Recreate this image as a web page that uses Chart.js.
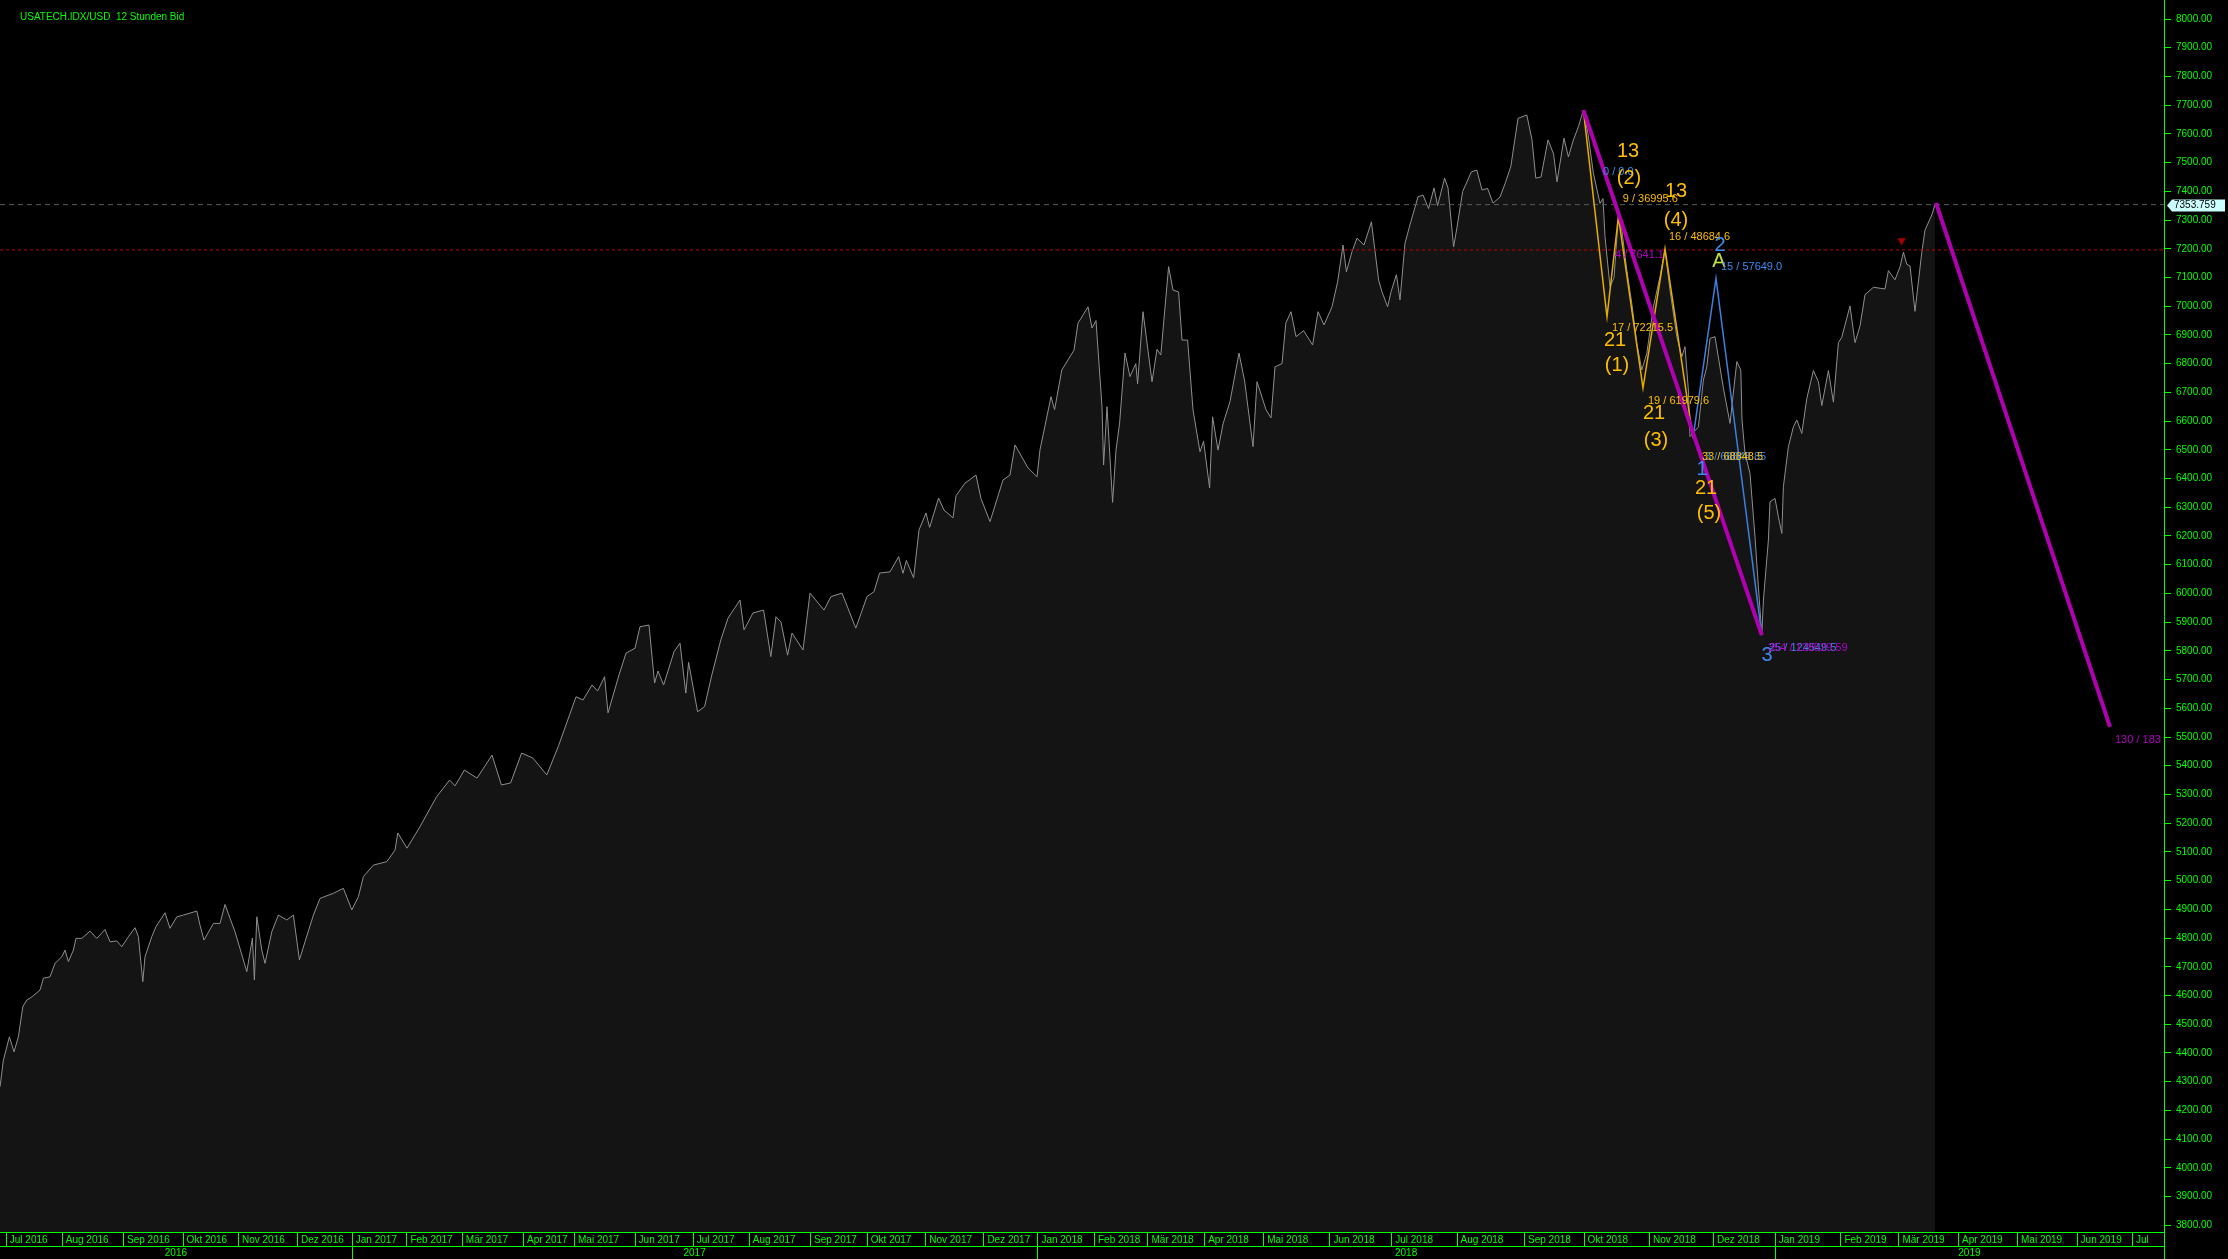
<!DOCTYPE html>
<html>
<head>
<meta charset="utf-8">
<script src="https://cdn.jsdelivr.net/npm/chart.js@4.4.1/dist/chart.umd.min.js"></script>
<style>
html, body { margin: 0; padding: 0; background: #000; overflow: hidden; }
#wrap { position: relative; width: 2228px; height: 1259px; }
</style>
</head>
<body>
<div id="wrap"><canvas id="usatechChart" width="2228" height="1259"></canvas></div>
<script>
// USATECH.IDX/USD, 12h bars - x is the bar (session) index, y the bid price
var chartTitle = 'USATECH.IDX/USD  12 Stunden Bid';

var monthLabels = ['Jul 2016','Aug 2016','Sep 2016','Okt 2016','Nov 2016','Dez 2016',
  'Jan 2017','Feb 2017','Mär 2017','Apr 2017','Mai 2017','Jun 2017','Jul 2017','Aug 2017','Sep 2017','Okt 2017','Nov 2017','Dez 2017',
  'Jan 2018','Feb 2018','Mär 2018','Apr 2018','Mai 2018','Jun 2018','Jul 2018','Aug 2018','Sep 2018','Okt 2018','Nov 2018','Dez 2018',
  'Jan 2019','Feb 2019','Mär 2019','Apr 2019','Mai 2019','Jun 2019','Jul 2019'];
var monthStarts = [2.9, 30.9, 61.5, 91.3, 119, 148.5,
  175.9, 203.2, 230.9, 261.5, 287, 317.3, 346.4, 374.4, 405, 433.4, 462.6, 491.7,
  518.7, 547, 573.7, 602.1, 631.6, 664.7, 695.6, 728.3, 762, 791.8, 824.5, 856.5,
  887.4, 920.2, 949.2, 979, 1008.5, 1038.3, 1066];
var yearLabels = ['2016', '2017', '2018', '2019'];
var yearStarts = [0, 175.9, 518.7, 887.4];
var lastBar = 1082;

var priceTicks = [3800,3900,4000,4100,4200,4300,4400,4500,4600,4700,4800,4900,5000,5100,5200,5300,5400,5500,
  5600,5700,5800,5900,6000,6100,6200,6300,6400,6500,6600,6700,6800,6900,7000,7100,7200,7300,7400,7500,
  7600,7700,7800,7900,8000];

// [bar, price]
var pricePoints = [
  [0,4282],[1.7,4375],[4.7,4456],[7,4404],[9.2,4456],[11.4,4561],[13.4,4584],[15.9,4595],[20,4619],[21.7,4660],
  [25,4665],[27.5,4712],[30.9,4735],[32.5,4758],[34.2,4718],[36.7,4758],[38,4799],[40.9,4799],[45,4824],[48.4,4799],
  [52.5,4830],[55,4787],[58.4,4790],[60.9,4770],[64.2,4805],[67.5,4836],[69.2,4805],[71.4,4648],[72.5,4735],[75.9,4805],
  [78,4840],[82.5,4888],[85,4834],[88.4,4874],[91.7,4880],[98.4,4894],[100,4845],[102,4793],[105,4830],[106.7,4851],
  [110,4851],[112.5,4917],[115,4869],[117.5,4822],[123.4,4683],[126.2,4800],[127.2,4654],[128.4,4874],[130.9,4758],[132.5,4712],
  [135.9,4822],[139.2,4880],[143.4,4863],[146.7,4880],[149.7,4724],[152.5,4787],[156.7,4880],[160,4938],[166.7,4956],[171.7,4973],
  [175.9,4898],[179.2,4944],[181.7,5014],[186.7,5054],[193.4,5066],[197.5,5106],[198.9,5166],[203.5,5113],[210,5188],[218.3,5292],
  [224.8,5350],[227.5,5330],[232.2,5385],[238.5,5357],[246,5437],[250.7,5333],[255.3,5340],[260.8,5444],[266.4,5427],[273.4,5368],
  [279.3,5470],[288,5640],[291.5,5629],[296,5681],[298.8,5660],[302.3,5710],[304,5584],[309.5,5716],[313,5792],[317.5,5809],
  [320,5884],[324.5,5890],[327.3,5688],[329,5730],[331.8,5681],[337,5797],[340,5827],[342.9,5653],[344.3,5760],[348.8,5588],
  [352.3,5606],[355.9,5716],[360.4,5838],[364,5914],[370,5977],[372,5873],[376.5,5932],[381.8,5942],[385.4,5780],[388,5919],
  [390.5,5900],[393.8,5785],[396,5862],[401.5,5803],[405,6001],[412,5942],[415.5,5989],[421,6001],[427.9,5879],[433.5,5989],
  [437,6006],[439.8,6071],[445,6075],[449.3,6128],[451.5,6070],[453.2,6115],[456.8,6054],[459.5,6221],[463,6280],[464.8,6230],
  [469.3,6332],[472,6290],[476.5,6263],[478,6340],[482.5,6384],[488,6412],[490.5,6330],[495,6250],[501.5,6395],[505,6412],
  [507.5,6517],[514,6437],[518.5,6406],[520,6500],[525.5,6685],[527.3,6640],[530.9,6778],[537,6847],[539,6941],[544,6998],
  [546,6924],[548,6950],[551,6650],[551.8,6447],[553.5,6650],[556.3,6317],[558,6499],[559.8,6593],[562.5,6837],[565,6755],
  [567.9,6800],[568.8,6730],[571.5,6981],[576,6737],[578.5,6850],[580.4,6830],[584.3,7138],[586.5,7056],[589.3,7050],[591,6882],
  [593.8,6882],[596.5,6639],[600,6493],[601.8,6530],[604.8,6367],[606.3,6615],[609,6499],[611.5,6590],[615,6668],[619.5,6837],
  [622.3,6740],[626.5,6511],[628.5,6737],[633,6640],[635.5,6611],[637.5,6789],[641,6800],[642.9,6941],[645.5,6981],[648,6894],
  [651.8,6915],[656.3,6865],[659,6981],[662,6935],[666,6998],[668.8,7085],[671.5,7213],[673.2,7120],[676,7190],[678.5,7237],
  [682,7213],[685.7,7294],[689.3,7091],[691,7050],[693.8,6998],[695.5,7050],[698.2,7110],[700,7022],[702.5,7220],[705.4,7294],
  [709,7381],[711.5,7387],[714.3,7340],[717,7412],[718.8,7350],[722.3,7446],[724,7412],[726.8,7207],[728.5,7275],[731.3,7399],
  [735.7,7468],[738.4,7474],[741,7405],[743.8,7410],[746.5,7359],[750,7380],[752.7,7430],[755.4,7486],[759,7654],[763.4,7666],
  [766,7579],[767.9,7446],[770.5,7450],[774,7579],[776.8,7530],[778.5,7433],[782,7585],[784.2,7520],[786.7,7579],[789.2,7625],
  [791.7,7683],[794,7600],[796.7,7463],[800,7358],[801.5,7375],[802.5,7242],[805,7068],[807,7100],[809.2,7312],[810.9,7265],
  [813.4,7126],[815.9,7010],[818.4,6871],[820.9,6778],[823.4,6836],[826.7,6998],[830,7103],[832.5,7196],[835,7056],[838.4,6894],
  [840.9,6824],[842.5,6859],[844.2,6708],[845,6546],[849.2,6580],[851.7,6743],[853.4,6789],[855,6888],[857.5,6894],[861.7,6715],
  [865,6592],[868.4,6807],[870.4,6778],[871,6604],[872.5,6488],[875,6418],[877.5,6197],[879.2,6023],[880.9,5855],[881.7,5977],
  [884.2,6186],[885,6319],[887.5,6331],[889.2,6267],[890.9,6209],[891.7,6372],[894.2,6511],[896.7,6580],[898.4,6604],[900.9,6557],
  [903.4,6679],[906.7,6776],[909.2,6737],[910.9,6654],[914.2,6776],[916.7,6666],[919.2,6873],[920.9,6892],[925,7001],[927.5,6873],
  [930,6931],[932.5,7040],[936.7,7066],[942.5,7060],[944.2,7124],[947.5,7092],[950,7137],[951.7,7188],[953.4,7146],[955,7140],
  [957.5,6982],[960.9,7188],[962.5,7265],[965.9,7318],[967.5,7353.759]
];
var lastPrice = 7353.759;
var alertLevel = 7196;
var alertMarker = [[950.8, 7228]];

// Elliott wave counts
var yellowWave = [[791.7,7683],[803.5,6963],[809.2,7312],[821.5,6715],[832.5,7200],[846.5,6541]];
var blueWave = [[846.5,6541],[858,7097],[880.9,5855]];
var magentaLeg = [[791.7,7683],[880.9,5855]];
var magentaProjection = [[968,7360],[1055,5535]];

// [text, bar, price, style]
var waveLabels = [
  ['0 / 0.0', 801.5, 7468, 'blueSmall'],
  ['13', 814, 7538, 'yellowBig'],
  ['(2)', 814.5, 7446, 'yellowBig'],
  ['9 / 36995.6', 811.4, 7372, 'yellowSmall'],
  ['13', 838, 7399, 'yellowBig'],
  ['(4)', 838, 7300, 'yellowBig'],
  ['16 / 48684.6', 834.5, 7242, 'yellowSmall'],
  ['4 / 7641.1', 807.5, 7178, 'magentaSmall'],
  ['2', 860, 7212, 'blueBig'],
  ['A', 859.5, 7155, 'limeBig'],
  ['15 / 57649.0', 860.5, 7138, 'blueSmall'],
  ['17 / 72215.5', 806, 6924, 'yellowSmall'],
  ['21', 807.5, 6882, 'yellowBig'],
  ['(1)', 808.5, 6795, 'yellowBig'],
  ['19 / 61979.6', 824, 6671, 'yellowSmall'],
  ['21', 827, 6628, 'yellowBig'],
  ['(3)', 828, 6534, 'yellowBig'],
  ['3 / 68848.85', 852.5, 6475, 'blueSmall'],
  ['33 / 68848.5', 851, 6475, 'yellowSmall'],
  ['1', 851, 6430, 'blueBig'],
  ['21', 853, 6367, 'yellowBig'],
  ['(5)', 854.5, 6280, 'yellowBig'],
  ['3', 883.5, 5785, 'blueBig'],
  ['25 / 124549.5', 884.5, 5810, 'blueSmall'],
  ['354 / 128529.59', 884, 5810, 'magentaSmall'],
  ['130 / 183', 1057.5, 5490, 'magentaSmall']
];

var green = '#00ff00';
var labelStyles = {
  yellowBig: { font: '20px "Liberation Sans", Arial, sans-serif', color: '#ffbf00', align: 'center' },
  yellowSmall: { font: '11px "Liberation Sans", Arial, sans-serif', color: '#ffbf00', align: 'left' },
  blueBig: { font: '20px "Liberation Sans", Arial, sans-serif', color: '#3d8bf0', align: 'center' },
  blueSmall: { font: '11px "Liberation Sans", Arial, sans-serif', color: '#3d8bf0', align: 'left' },
  limeBig: { font: '20px "Liberation Sans", Arial, sans-serif', color: '#c4e03c', align: 'center' },
  magentaSmall: { font: '11px "Liberation Sans", Arial, sans-serif', color: '#b400c8', align: 'left' }
};

function toXY(list) {
  return list.map(function (p) { return { x: p[0], y: p[1] }; });
}

var decor = {
  id: 'decor',
  beforeDraw: function (chart) {
    var c = chart.ctx;
    c.save();
    c.fillStyle = '#000';
    c.fillRect(0, 0, chart.width, chart.height);
    c.restore();
  },
  afterDatasetsDraw: function (chart) {
    var c = chart.ctx, xs = chart.scales.x, ys = chart.scales.y, a = chart.chartArea;
    c.save();
    c.beginPath();
    c.rect(a.left, a.top, a.right - a.left, a.bottom - a.top);
    c.clip();
    c.textBaseline = 'middle';
    waveLabels.forEach(function (l) {
      var st = labelStyles[l[3]];
      c.font = st.font;
      c.fillStyle = st.color;
      c.textAlign = st.align;
      c.fillText(l[0], xs.getPixelForValue(l[1]), ys.getPixelForValue(l[2]));
    });
    c.restore();
  },
  afterDraw: function (chart) {
    var c = chart.ctx, xs = chart.scales.x, ys = chart.scales.y, a = chart.chartArea;
    var rowTop = a.bottom, rowMid = a.bottom + 14, rowEnd = chart.height;
    c.save();
    c.strokeStyle = green;
    c.lineWidth = 1;
    // month / year rows
    c.beginPath();
    c.moveTo(0, rowTop + 0.5); c.lineTo(a.right, rowTop + 0.5);
    c.moveTo(0, rowMid + 0.5); c.lineTo(a.right, rowMid + 0.5);
    c.moveTo(a.right + 0.5, rowTop); c.lineTo(a.right + 0.5, rowEnd);
    monthStarts.forEach(function (m) {
      var x = Math.round(xs.getPixelForValue(m)) + 0.5;
      c.moveTo(x, rowTop); c.lineTo(x, rowMid);
    });
    yearStarts.forEach(function (y, i) {
      if (i === 0) return;
      var x = Math.round(xs.getPixelForValue(y)) + 0.5;
      c.moveTo(x, rowMid); c.lineTo(x, rowEnd);
    });
    c.stroke();

    c.beginPath();
    c.rect(0, rowTop, a.right, rowEnd - rowTop);
    c.clip();
    c.fillStyle = green;
    c.font = '10px "Liberation Sans", Arial, sans-serif';
    c.textBaseline = 'middle';
    c.textAlign = 'left';
    monthLabels.forEach(function (t, i) {
      var x = xs.getPixelForValue(monthStarts[i]) + 4;
      // shorten the label when the full text does not fit before the axis
      if (x + c.measureText(t).width > a.right - 2) t = t.split(' ')[0];
      c.fillText(t, x, rowTop + 8);
    });
    c.textAlign = 'center';
    yearLabels.forEach(function (t, i) {
      var x0 = xs.getPixelForValue(yearStarts[i]);
      var x1 = i + 1 < yearStarts.length ? xs.getPixelForValue(yearStarts[i + 1]) : a.right;
      c.fillText(t, (x0 + x1) / 2, rowMid + 7);
    });
    c.restore();

    // current price tag
    c.save();
    var py = Math.round(ys.getPixelForValue(lastPrice)) + 0.5;
    var bx = a.right + 3;
    c.beginPath();
    c.moveTo(bx, py);
    c.lineTo(bx + 5, py - 6);
    c.lineTo(chart.width - 3, py - 6);
    c.lineTo(chart.width - 3, py + 6);
    c.lineTo(bx + 5, py + 6);
    c.closePath();
    c.fillStyle = '#ccffff';
    c.fill();
    c.fillStyle = '#000';
    c.font = '10px "Liberation Sans", Arial, sans-serif';
    c.textAlign = 'left';
    c.textBaseline = 'middle';
    c.fillText(lastPrice.toFixed(3), bx + 7, py);

    // title
    c.fillStyle = green;
    c.fillText(chartTitle, 20, 17);
    c.restore();
  }
};

var lineBase = { type: 'line', pointRadius: 0, fill: false, tension: 0 };

new Chart(document.getElementById('usatechChart'), {
  type: 'line',
  data: {
    datasets: [
      Object.assign({}, lineBase, { data: toXY(magentaLeg), borderColor: '#b000b0', borderWidth: 4, order: 0 }),
      Object.assign({}, lineBase, { data: toXY(magentaProjection), borderColor: '#b000b0', borderWidth: 4, order: 0 }),
      Object.assign({}, lineBase, { data: toXY(blueWave), borderColor: '#3c7fdc', borderWidth: 1.5, order: 1 }),
      Object.assign({}, lineBase, { data: toXY(yellowWave), borderColor: '#e6ac00', borderWidth: 1.5, order: 2 }),
      {
        type: 'scatter', data: toXY(alertMarker), pointStyle: 'triangle', rotation: 180,
        pointRadius: 4, backgroundColor: '#a00000', borderColor: '#a00000', order: 3
      },
      Object.assign({}, lineBase, {
        data: [{ x: 0, y: lastPrice }, { x: lastBar, y: lastPrice }],
        borderColor: '#5a5a5a', borderWidth: 1, borderDash: [5, 4], order: 4
      }),
      Object.assign({}, lineBase, {
        data: [{ x: 0, y: alertLevel }, { x: lastBar, y: alertLevel }],
        borderColor: '#c00000', borderWidth: 1, borderDash: [3, 3], order: 4
      }),
      Object.assign({}, lineBase, {
        data: toXY(pricePoints), borderColor: '#8e8e8e', borderWidth: 1,
        fill: 'start', backgroundColor: '#141414', order: 10
      })
    ]
  },
  options: {
    responsive: false,
    devicePixelRatio: 1,
    animation: false,
    layout: { padding: 0, autoPadding: false },
    plugins: { legend: { display: false }, tooltip: { enabled: false } },
    scales: {
      x: {
        type: 'linear', min: 0, max: lastBar,
        grid: { display: false }, border: { display: false },
        ticks: { display: false },
        afterFit: function (s) { s.height = 27; s.paddingLeft = 0; s.paddingRight = 0; }
      },
      y: {
        type: 'linear', position: 'right', min: 3776.5, max: 8066.2,
        afterBuildTicks: function (s) { s.ticks = priceTicks.map(function (v) { return { value: v }; }); },
        grid: { drawOnChartArea: false, color: green, tickLength: 7 },
        border: { color: green },
        ticks: {
          color: green, padding: 5, autoSkip: false,
          font: { family: '"Liberation Sans", Arial, sans-serif', size: 10 },
          callback: function (v) { return Number(v).toFixed(2); }
        },
        afterFit: function (s) { s.width = 64; s.paddingTop = 0; s.paddingBottom = 0; }
      }
    }
  },
  plugins: [decor]
});
</script>
</body>
</html>
